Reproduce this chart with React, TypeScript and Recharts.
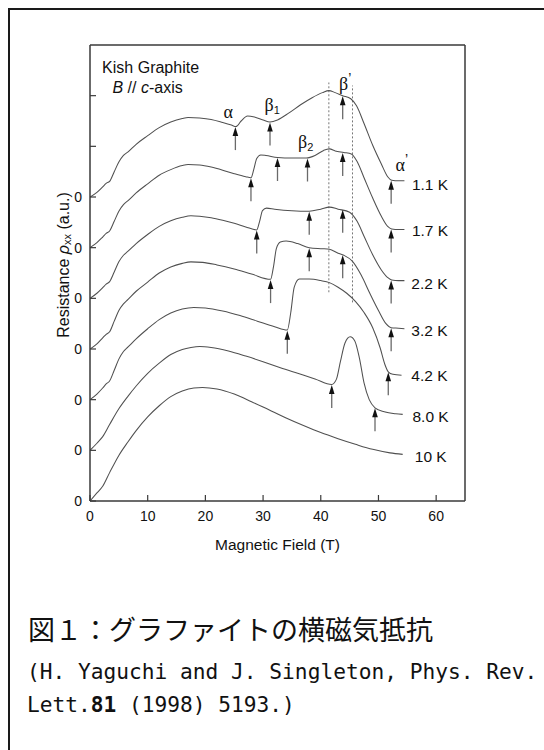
import React from 'react';
import { ComposedChart, Line, Scatter, XAxis, YAxis, ReferenceLine } from 'recharts';

// ---- axes ----
const fieldTicks = [0, 10, 20, 30, 40, 50, 60];
const fieldMinorTicks = [2, 4, 6, 8, 12, 14, 16, 18, 22, 24, 26, 28, 32, 34, 36, 38, 42, 44, 46, 48, 52, 54, 56, 58, 62, 64];
const rhoTicks = [0, 1, 2, 3, 4, 5, 6, 7, 8];
const zeroLabelMax = 6;

// ---- series: [B (T), rho (a.u., offset)] ----
const temperatures = ['1.1 K', '1.7 K', '2.2 K', '3.2 K', '4.2 K', '8.0 K', '10 K'];

const curve11: [number, number][] = [[0,6.00],[1.2,6.09],[2.2,6.20],[2.8,6.27],[3.4,6.31],[4.2,6.50],[5,6.69],[5.8,6.82],[6.6,6.89],[8,7.04],[10,7.21],[12,7.37],[14,7.48],[16,7.55],[17,7.57],[19,7.56],[21,7.53],[23,7.47],[24.5,7.42],[25.3,7.39],[26.2,7.50],[27.3,7.60],[28.5,7.58],[30,7.52],[31.2,7.48],[32.5,7.52],[34.5,7.66],[36.5,7.82],[38.5,7.96],[40.3,8.06],[41.4,8.10],[42.5,8.06],[43.8,8.00],[45.2,7.94],[46.2,7.80],[47.5,7.45],[49,7.02],[50.5,6.65],[51.6,6.40],[52.3,6.33],[53.5,6.32],[54.5,6.32]];
const curve17: [number, number][] = [[0,5.00],[1.2,5.10],[2.2,5.21],[2.8,5.28],[3.4,5.33],[4.2,5.52],[5,5.72],[5.8,5.85],[6.6,5.93],[8,6.08],[10,6.26],[12,6.43],[14,6.54],[16,6.62],[17,6.64],[19,6.63],[21,6.59],[23,6.53],[25,6.46],[27,6.40],[27.9,6.38],[28.4,6.55],[28.9,6.76],[29.6,6.83],[30.5,6.82],[32.5,6.78],[35,6.77],[37.5,6.77],[39,6.82],[40.5,6.92],[41.5,6.95],[42.5,6.91],[44,6.88],[45.3,6.85],[46.3,6.70],[47.5,6.38],[49,5.98],[50.5,5.62],[51.6,5.42],[52.3,5.37],[53.5,5.36],[54.5,5.36]];
const curve22: [number, number][] = [[0,4.00],[1.2,4.10],[2.2,4.21],[2.8,4.28],[3.4,4.33],[4.2,4.52],[5,4.72],[5.8,4.85],[6.6,4.93],[8,5.08],[10,5.26],[12,5.42],[14,5.53],[16,5.60],[17.5,5.63],[19,5.62],[21,5.59],[23,5.54],[25,5.48],[27,5.41],[28.9,5.35],[29.4,5.52],[29.9,5.73],[30.6,5.78],[32,5.76],[35,5.73],[38,5.72],[40,5.76],[41.5,5.80],[43,5.76],[45,5.70],[46.3,5.52],[47.6,5.20],[49,4.86],[50.5,4.56],[51.6,4.41],[52.3,4.36],[53.5,4.35],[54.5,4.35]];
const curve32: [number, number][] = [[0,3.00],[1.2,3.10],[2.2,3.22],[2.8,3.29],[3.4,3.34],[4.2,3.55],[5,3.76],[5.8,3.89],[6.6,3.98],[8,4.14],[10,4.32],[12,4.50],[14,4.62],[16,4.69],[17.5,4.72],[19.5,4.71],[22,4.66],[25,4.58],[28,4.48],[31.3,4.375],[31.8,4.62],[32.3,4.98],[33,5.11],[34,5.13],[36,5.08],[38,5.00],[40,4.98],[41.5,4.97],[43,4.89],[44,4.85],[45.5,4.73],[47,4.46],[48.5,4.10],[50,3.76],[51.3,3.50],[52.2,3.42],[53.5,3.41],[54.5,3.40]];
const curve42: [number, number][] = [[0,2.00],[1.2,2.11],[2.2,2.23],[2.8,2.31],[3.4,2.37],[4.2,2.58],[5,2.80],[5.8,2.95],[6.6,3.04],[8,3.20],[10,3.40],[12,3.58],[14,3.71],[16,3.79],[18,3.82],[20,3.81],[23,3.75],[26,3.66],[29,3.55],[32,3.44],[34.2,3.375],[34.8,3.72],[35.4,4.22],[36.3,4.38],[38,4.38],[40,4.35],[41.5,4.31],[43,4.22],[44.5,4.10],[46,3.94],[47.5,3.72],[49,3.42],[50.3,3.02],[51.1,2.70],[51.7,2.55],[52.5,2.50],[54,2.48]];
const curve80: [number, number][] = [[0,1.00],[1.2,1.14],[2.2,1.27],[3.4,1.51],[5,1.82],[6.6,2.07],[8,2.27],[10,2.52],[12,2.72],[14,2.89],[16,2.99],[17.5,3.03],[19,3.05],[21,3.03],[24,2.96],[27,2.86],[30,2.75],[33,2.63],[36,2.52],[39,2.41],[41.9,2.30],[42.7,2.40],[43.4,2.75],[44.2,3.12],[45.1,3.24],[45.9,3.16],[46.7,2.82],[47.5,2.33],[48.4,2.00],[49.4,1.84],[51,1.76],[53,1.72],[54.2,1.71]];
const curve10: [number, number][] = [[0,0],[1.2,0.16],[2.2,0.29],[3.4,0.56],[5,0.90],[6.6,1.17],[8,1.39],[10,1.66],[12,1.88],[14,2.06],[16,2.17],[18,2.23],[19.5,2.24],[22,2.21],[25,2.11],[28,1.96],[31,1.80],[34,1.64],[37,1.49],[40,1.35],[43,1.23],[46,1.12],[49,1.02],[52,0.95],[54.2,0.92]];

const curves = [curve11, curve17, curve22, curve32, curve42, curve80, curve10];

// arrow tips [B, rho]
const arrows11: [number, number][] = [[25.2,7.38],[31.2,7.47],[43.8,7.99],[52.2,6.32]];
const arrows17: [number, number][] = [[27.9,6.37],[32.5,6.77],[37.7,6.76],[43.8,6.87],[52.2,5.36]];
const arrows22: [number, number][] = [[28.9,5.34],[38,5.71],[43.8,5.75],[52.2,4.35]];
const arrows32: [number, number][] = [[31.3,4.36],[38,4.99],[43.8,4.85],[52.2,3.41]];
const arrows42: [number, number][] = [[34.2,3.36],[51.7,2.54]];
const arrows80: [number, number][] = [[41.9,2.29],[49.4,1.83]];
const allArrows = [arrows11, arrows17, arrows22, arrows32, arrows42, arrows80];

// temperature labels
const tempLabelB = [55.8, 55.8, 55.7, 55.7, 55.7, 55.9, 56.3];
const tempLabelR = [6.24, 5.33, 4.30, 3.37, 2.47, 1.66, 0.87];

// in-plot notes
const noteIds = ['kish', 'axis', 'alpha', 'beta1', 'betaP', 'beta2', 'alphaP'];
const noteB = [2.1, 3.9, 23.97, 30.9, 43.9, 36.7, 53.7];
const noteR = [8.45, 8.05, 7.68, 7.82, 8.24, 7.09, 6.63];

// dotted guide lines
const guideB = [41.4, 45.5];
const guideLow = [4.12, 3.92];
const guideHigh = [8.26, 8.2];

const SANS = '"Liberation Sans", Arial, Helvetica, sans-serif';
const SERIF = '"Liberation Serif", "DejaVu Serif", serif';
const CURVE = '#505050';
const FRAME = '#3a3a3a';

const lineData = curves.map((c) => c.map(([b, r]) => ({ b, r })));
const arrowData = allArrows.flat().map(([b, r]) => ({ b, r }));
const tempData = temperatures.map((t, i) => ({ b: tempLabelB[i], r: tempLabelR[i], t }));
const noteData = noteIds.map((id, i) => ({ b: noteB[i], r: noteR[i], id }));

const ArrowMark = (props: any) => {
  const { cx, cy } = props;
  if (cx == null || cy == null) return <g />;
  return (
    <g>
      <line x1={cx} y1={cy + 6} x2={cx} y2={cy + 23} stroke="#6a6a6a" strokeWidth={1.3} />
      <path d={`M${cx},${cy} L${cx - 2.8},${cy + 9} L${cx + 2.8},${cy + 9} Z`} fill="#111" />
    </g>
  );
};

const TempLabel = (props: any) => {
  const { cx, cy, payload } = props;
  if (cx == null) return <g />;
  return (
    <text x={cx} y={cy} dominantBaseline="central" fontFamily={SANS} fontSize={15.5} fill="#111">
      {payload.t}
    </text>
  );
};

const Greek = ({ x, y, ch, sub, prime }: any) => (
  <text x={x} y={y} dominantBaseline="central" textAnchor="middle" fill="#111">
    <tspan fontFamily={SERIF} fontSize={18}>{ch}</tspan>
    {prime ? <tspan fontFamily={SANS} fontSize={14} dy={-6}>{'\u2019'}</tspan> : null}
    {sub ? <tspan fontFamily={SANS} fontSize={11} dy={5}>{sub}</tspan> : null}
  </text>
);

const Note = (props: any) => {
  const { cx, cy, payload } = props;
  if (cx == null) return <g />;
  switch (payload.id) {
    case 'kish':
      return <text x={cx} y={cy} fontFamily={SANS} fontSize={16} fill="#111">Kish Graphite</text>;
    case 'axis':
      return (
        <text x={cx} y={cy} fontFamily={SANS} fontSize={16} fill="#111">
          <tspan fontStyle="italic">B</tspan> // <tspan fontStyle="italic">c</tspan>-axis
        </text>
      );
    case 'alpha':
      return <Greek x={cx} y={cy} ch={'\u03b1'} />;
    case 'beta1':
      return <Greek x={cx + 4} y={cy} ch={'\u03b2'} sub="1" />;
    case 'beta2':
      return <Greek x={cx + 4} y={cy} ch={'\u03b2'} sub="2" />;
    case 'betaP':
      return <Greek x={cx + 2} y={cy} ch={'\u03b2'} prime />;
    case 'alphaP':
      return <Greek x={cx + 2} y={cy} ch={'\u03b1'} prime />;
    default:
      return <g />;
  }
};

const YTitle = (props: any) => {
  const vb = props.viewBox || { x: 89, y: 45, width: 1, height: 456 };
  const cx = vb.x - 26;
  const cy = vb.y + vb.height / 2 - 8;
  return (
    <text
      x={cx}
      y={cy}
      transform={`rotate(-90, ${cx}, ${cy})`}
      textAnchor="middle"
      dominantBaseline="central"
      fontFamily={SANS}
      fontSize={16}
      fill="#111"
    >
      Resistance{' '}
      <tspan fontStyle="italic">{'\u03c1'}</tspan>
      <tspan fontSize={11} dy={4}>xx</tspan>
      <tspan dy={-4}> (a.u.)</tspan>
    </text>
  );
};

const tickStyle = { fontFamily: SANS, fontSize: 14, fill: '#111' };

export default function App() {
  return (
    <div style={{ position: 'fixed', left: 0, top: 0, width: 544, height: 750, overflow: 'hidden', background: '#fff' }}>
      <div
        style={{
          position: 'absolute',
          left: 8,
          top: 8,
          width: 600,
          height: 800,
          borderTop: '2px solid #1a1a1a',
          borderLeft: '2px solid #1a1a1a',
        }}
      />
      <div style={{ position: 'absolute', left: 0, top: 0 }}>
        <ComposedChart width={544} height={580} margin={{ top: 43, right: 78, bottom: 77, left: 89 }}>
          <XAxis
            xAxisId={0}
            dataKey="b"
            type="number"
            domain={[0, 65]}
            ticks={fieldTicks}
            interval={0}
            allowDataOverflow
            height={1}
            tickSize={-6}
            tickMargin={16}
            tick={tickStyle}
            tickLine={{ stroke: FRAME, strokeWidth: 1.2 }}
            axisLine={{ stroke: FRAME, strokeWidth: 1.5 }}
            label={{ value: 'Magnetic Field (T)', position: 'bottom', offset: 37, fontFamily: SANS, fontSize: 15.5, fill: '#111' }}
          />
          <XAxis
            xAxisId="bm"
            type="number"
            domain={[0, 65]}
            ticks={fieldMinorTicks}
            interval={0}
            allowDataOverflow
            height={1}
            tickSize={-4}
            tick={false}
            tickLine={{ stroke: FRAME, strokeWidth: 1 }}
            axisLine={false}
          />
          <XAxis
            xAxisId="tM"
            orientation="top"
            type="number"
            domain={[0, 65]}
            ticks={fieldTicks}
            interval={0}
            allowDataOverflow
            height={1}
            tickSize={-6}
            tick={false}
            tickLine={{ stroke: FRAME, strokeWidth: 1.2 }}
            axisLine={{ stroke: FRAME, strokeWidth: 1.5 }}
          />
          <XAxis
            xAxisId="tm"
            orientation="top"
            type="number"
            domain={[0, 65]}
            ticks={fieldMinorTicks}
            interval={0}
            allowDataOverflow
            height={1}
            tickSize={-4}
            tick={false}
            tickLine={{ stroke: FRAME, strokeWidth: 1 }}
            axisLine={false}
          />
          <YAxis
            yAxisId={0}
            dataKey="r"
            type="number"
            domain={[0, 9]}
            ticks={rhoTicks}
            interval={0}
            allowDataOverflow
            width={1}
            tickSize={-6}
            tickMargin={14}
            tick={tickStyle}
            tickFormatter={(v: number) => (v <= zeroLabelMax ? '0' : '')}
            tickLine={{ stroke: FRAME, strokeWidth: 1.2 }}
            axisLine={{ stroke: FRAME, strokeWidth: 1.5 }}
            label={{ content: <YTitle /> }}
          />
          <YAxis
            yAxisId="r"
            orientation="right"
            type="number"
            domain={[0, 9]}
            ticks={rhoTicks}
            interval={0}
            allowDataOverflow
            width={1}
            tickSize={-6}
            tick={false}
            tickLine={{ stroke: FRAME, strokeWidth: 1.2 }}
            axisLine={{ stroke: FRAME, strokeWidth: 1.5 }}
          />
          {guideB.map((b, i) => (
            <ReferenceLine
              key={`g${i}`}
              segment={[{ x: b, y: guideLow[i] }, { x: b, y: guideHigh[i] }]}
              stroke="#777"
              strokeWidth={1}
              strokeDasharray="2 2"
            />
          ))}
          {lineData.map((d, i) => (
            <Line
              key={temperatures[i]}
              data={d}
              dataKey="r"
              type="monotone"
              stroke={CURVE}
              strokeWidth={1.05}
              dot={false}
              activeDot={false}
              legendType="none"
              isAnimationActive={false}
            />
          ))}
          <Scatter data={arrowData} dataKey="r" shape={<ArrowMark />} isAnimationActive={false} legendType="none" />
          <Scatter data={tempData} dataKey="r" shape={<TempLabel />} isAnimationActive={false} legendType="none" />
          <Scatter data={noteData} dataKey="r" shape={<Note />} isAnimationActive={false} legendType="none" />
        </ComposedChart>
      </div>
      <svg width={544} height={150} style={{ position: 'absolute', left: 0, top: 600 }}>
        <text x={28} y={40} fontFamily='"Noto Sans CJK JP", sans-serif' fontSize={27} fill="#111">
          図１：グラファイトの横磁気抵抗
        </text>
        <text x={27} y={79} fontFamily='"DejaVu Sans Mono", "Liberation Mono", monospace' fontSize={21.2} fill="#111">
          (H. Yaguchi and J. Singleton, Phys. Rev.
        </text>
        <text x={27} y={112} fontFamily='"DejaVu Sans Mono", "Liberation Mono", monospace' fontSize={21.2} fill="#111">
          Lett.<tspan fontWeight="bold">81</tspan> (1998) 5193.)
        </text>
      </svg>
    </div>
  );
}
